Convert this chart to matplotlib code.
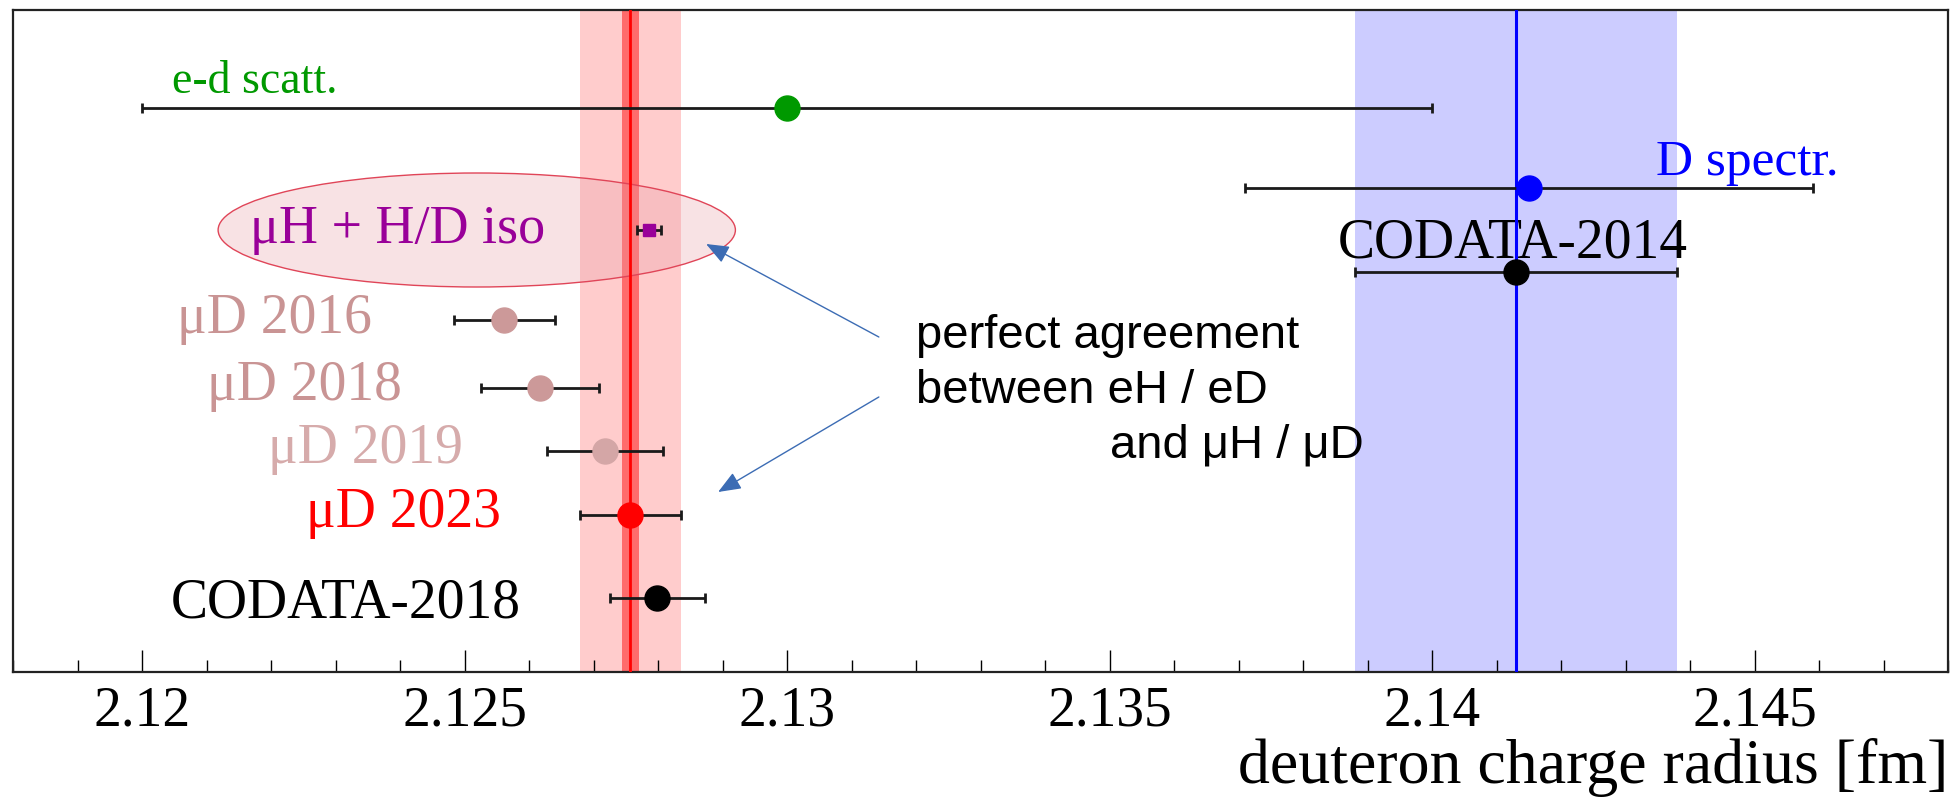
import matplotlib
matplotlib.use("Agg")
import matplotlib.pyplot as plt
from matplotlib.patches import Ellipse
from matplotlib.ticker import MultipleLocator

# deuteron charge radius results [fm]
labels = ["e-d scatt.", "D spectr.", "μH + H/D iso", "CODATA-2014",
          "μD 2016", "μD 2018", "μD 2019", "μD 2023", "CODATA-2018"]
radius = [2.1300, 2.1415, 2.12786, 2.1413, 2.12562, 2.12617, 2.12718, 2.12757, 2.12799]
error = [0.0100, 0.0044, 0.00018, 0.0025, 0.00078, 0.00091, 0.00090, 0.00078, 0.00074]
mud2023_inner = 0.00013   # narrow inner band of the 2023 muonic value

tick_values = [2.12, 2.125, 2.13, 2.135, 2.14, 2.145]
tick_labels = ["2.12", "2.125", "2.13", "2.135", "2.14", "2.145"]

# layout (vertical rows, label placement, colours)
rows = [108, 188, 230, 272, 320, 388, 451, 515, 598]
point_colors = ["#009900", "#0000ff", "#990099", "black", "#cc9999",
                "#cc9999", "#d4a6a6", "#ff0000", "black"]
text_colors = ["#009900", "#0000ff", "#990099", "black", "#c99494",
               "#c99494", "#d6abab", "#ff0000", "black"]
text_x = [2.12046, 2.14347, 2.12167, 2.13854, 2.12054, 2.12101, 2.12195, 2.12254, 2.12045]
text_y = [93, 175, 243, 257, 333, 400, 463, 527, 617]
text_size = [33, 37, 39, 40, 40, 40, 40, 40, 40]

plt.rcParams["font.family"] = ["Liberation Serif", "DejaVu Serif"]

fig = plt.figure(figsize=(19.51, 8), dpi=100)
ax = fig.add_axes([13 / 1951, 128 / 800, 1935 / 1951, 662 / 800])
ax.set_xlim(2.118, 2.148)
ax.set_ylim(672, 10)

# bands
c14 = radius[3]
ax.axvspan(c14 - error[3], c14 + error[3], color="#ccccff", lw=0, zorder=0)
ax.axvline(c14, color="#0000ff", lw=2.2, zorder=3)
m23 = radius[7]
ax.axvspan(m23 - error[7], m23 + error[7], color="#ffcccc", lw=0, zorder=0)
ax.axvspan(m23 - mud2023_inner, m23 + mud2023_inner, color="#ff6b6b", lw=0, zorder=0.5)
ax.axvline(m23, color="#ff0000", lw=2.0, zorder=3)

# highlight around the muH + H/D iso entry
ell = Ellipse((2.12519, 230), 0.00802, 114, facecolor="#e8a0a8", alpha=0.3,
              edgecolor="none", zorder=1)
ax.add_patch(ell)
ax.add_patch(Ellipse((2.12519, 230), 0.00802, 114, facecolor="none",
                     edgecolor="#e04558", lw=1.0, zorder=1.2))

# error bars and points
ax.errorbar(radius, rows, xerr=error, fmt="none", ecolor="#1a1a1a",
            elinewidth=2.0, capsize=3.5, capthick=2.0, zorder=4)
for i in range(len(radius)):
    if i == 2:
        ax.plot(radius[i], rows[i], "s", color=point_colors[i], ms=8, zorder=5)
    else:
        ax.plot(radius[i], rows[i], "o", color=point_colors[i], ms=18, zorder=5)
    ax.text(text_x[i], text_y[i], labels[i], color=text_colors[i],
            fontsize=text_size[i], va="baseline", ha="left", zorder=2)

# comment with arrows
sans = ["Liberation Sans", "DejaVu Sans"]
ax.text(2.131997, 348, "perfect agreement", family=sans, fontsize=34, va="baseline")
ax.text(2.131997, 403, "between eH / eD", family=sans, fontsize=34, va="baseline")
ax.text(2.135015, 458, "and μH / μD", family=sans, fontsize=34, va="baseline")
arrow = dict(arrowstyle="-|>,head_length=1.0,head_width=0.4", color="#3c6cb4",
             lw=1.0, shrinkA=0, shrinkB=0, mutation_scale=14)
ax.annotate("", xy=(2.128746, 244), xytext=(2.131424, 337), arrowprops=arrow, zorder=6)
ax.annotate("", xy=(2.128932, 492), xytext=(2.131424, 397), arrowprops=arrow, zorder=6)

# axes
ax.set_xticks(tick_values)
ax.set_xticklabels(tick_labels)
ax.xaxis.set_minor_locator(MultipleLocator(0.001))
ax.tick_params(axis="x", which="major", direction="in", length=16, width=1,
               pad=10, labelsize=40)
ax.tick_params(axis="x", which="minor", direction="in", length=8.5, width=1)
ax.tick_params(axis="y", left=False, labelleft=False)
for s in ax.spines.values():
    s.set_linewidth(1.6)
    s.set_color("#222222")

ax.set_xlabel("deuteron charge radius [fm]", fontsize=46, loc="right")
ax.xaxis.set_label_coords(1.0, -0.1)

fig.savefig("out.png", dpi=100)
